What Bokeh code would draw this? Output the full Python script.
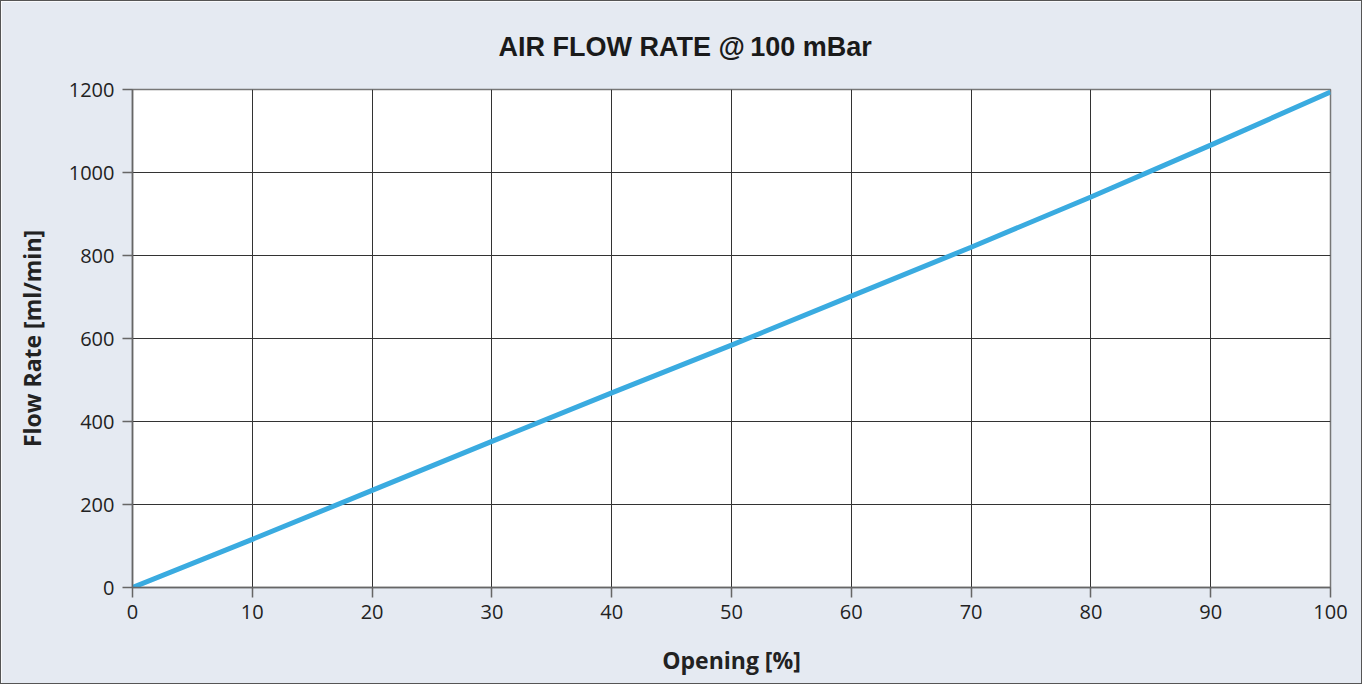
from bokeh.plotting import figure
from bokeh.models import Range1d, FixedTicker, Title
from bokeh.embed import file_html
from bokeh.resources import INLINE

opening = [0, 10, 20, 30, 40, 50, 60, 70, 80, 90, 100]
flow = [0, 116, 234, 352, 469, 584, 702, 820, 941, 1066, 1194]
x_ticks = [0, 10, 20, 30, 40, 50, 60, 70, 80, 90, 100]
y_ticks = [0, 200, 400, 600, 800, 1000, 1200]

title_text = "AIR FLOW RATE @\u2009100 mBar"
x_label = "Opening [%]"
y_label = "Flow Rate [ml/min]"

BG = "#e5eaf2"

p = figure(width=1362, height=684, output_backend="svg", toolbar_location=None,
           x_range=Range1d(0, 100), y_range=Range1d(0, 1200),
           min_border_left=131, min_border_right=33, min_border_top=88, min_border_bottom=98)
p.background_fill_color = "white"
p.border_fill_color = BG
p.outline_line_color = "#777777"
p.outline_line_width = 1.5
p.styles = {"border": "1.5px solid #555555", "box-sizing": "border-box"}

p.title = Title(text=title_text, align="left", text_font="Liberation Sans",
                text_font_style="bold", text_font_size="27px", text_color="#1a1a1a",
                standoff=55, offset=366)

p.line(opening, flow, line_color="#3aabe0", line_width=5)

for ax in (p.xaxis, p.yaxis):
    ax.axis_line_color = "#666666"
    ax.axis_line_width = 1.5
    ax.major_tick_line_color = "#666666"
    ax.major_tick_line_width = 1.5
    ax.major_tick_out = 10
    ax.major_tick_in = 0
    ax.minor_tick_line_color = None
    ax.major_label_text_font = "Open Sans"
    ax.major_label_text_font_size = "20px"
    ax.major_label_text_color = "#222222"
    ax.axis_label_text_font = "Open Sans"
    ax.axis_label_text_font_style = "bold"
    ax.axis_label_text_font_size = "23px"
    ax.axis_label_text_color = "#222222"

p.xaxis.ticker = FixedTicker(ticks=x_ticks)
p.yaxis.ticker = FixedTicker(ticks=y_ticks)
p.xaxis.axis_label = x_label
p.yaxis.axis_label = y_label
p.xaxis.major_label_standoff = 7
p.yaxis.major_label_standoff = 8
p.xaxis.axis_label_standoff = 22
p.yaxis.axis_label_standoff = 18

p.xgrid.grid_line_color = "#333333"
p.ygrid.grid_line_color = "#333333"
p.xgrid.grid_line_width = 1
p.ygrid.grid_line_width = 1

open("out.html", "w").write(file_html(p, INLINE))
